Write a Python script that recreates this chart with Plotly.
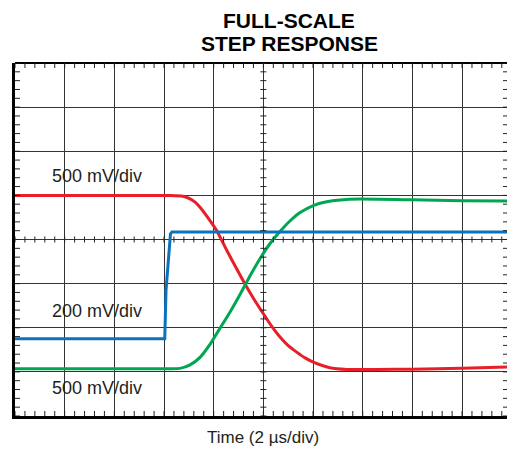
import plotly.graph_objects as go

# Time axis in microseconds (2 us/div), vertical in scope divisions
red_t = [0.0, 6.24, 6.76, 7.05, 7.25, 7.45, 7.85, 8.12, 8.52, 8.93, 9.26, 9.58, 10.0, 10.34, 10.67, 10.99,
         11.34, 11.68, 12.01, 12.68, 13.36, 14.6, 16.0, 18.0, 19.82]
red_v = [1.0, 0.996, 0.98, 0.922, 0.845, 0.731, 0.43, 0.204, -0.238, -0.668, -1.008, -1.313, -1.683, -1.97,
         -2.212, -2.40, -2.552, -2.683, -2.779, -2.905, -2.944, -2.945, -2.94, -2.92, -2.89]

green_t = [0.0, 6.24, 6.64, 7.05, 7.45, 7.85, 8.25, 8.66, 9.06, 9.46, 9.87, 10.27, 10.67, 11.07, 11.48,
           12.01, 12.55, 13.09, 13.89, 16.0, 18.0, 19.82]
green_v = [-2.93, -2.928, -2.921, -2.842, -2.672, -2.378, -2.015, -1.642, -1.245, -0.827, -0.43, -0.091,
           0.181, 0.419, 0.611, 0.77, 0.854, 0.894, 0.917, 0.90, 0.88, 0.87]

blue_t = [0.0, 6.03, 6.08, 6.18, 6.26, 6.32, 19.82]
blue_v = [-2.25, -2.25, -1.16, -0.40, 0.13, 0.17, 0.17]

labels = ["500 mV/div", "200 mV/div", "500 mV/div"]
label_v = [1.43, -1.63, -3.37]
title_lines = ["FULL-SCALE", "STEP RESPONSE"]
x_title = "Time (2 µs/div)"

X_MAX = 19.81
FONT = "Liberation Sans, Arial, Helvetica, sans-serif"

fig = go.Figure()
fig.add_trace(go.Scatter(x=red_t, y=red_v, mode="lines",
                         line=dict(color="#e81f29", width=3, shape="spline", smoothing=0.5)))
fig.add_trace(go.Scatter(x=green_t, y=green_v, mode="lines",
                         line=dict(color="#00a651", width=3, shape="spline", smoothing=0.5)))
fig.add_trace(go.Scatter(x=blue_t, y=blue_v, mode="lines",
                         line=dict(color="#0a73bd", width=3)))

shapes = []
tick_col = "#222"
# top border line
shapes.append(dict(type="line", xref="paper", yref="paper", x0=0, x1=1, y0=1, y1=1,
                   line=dict(color="black", width=2)))
dy = 1 / 44.16  # one pixel in y divisions
dx = 2 / 49.67  # one pixel in x (us)
# horizontal ticks along top/bottom borders and center line
for i in range(0, 50):
    x = i * 0.4
    if x > X_MAX:
        break
    shapes.append(dict(type="line", x0=x, x1=x, y0=4, y1=4 - 5 * dy, line=dict(color=tick_col, width=1)))
    shapes.append(dict(type="line", x0=x, x1=x, y0=-4, y1=-4 + 5 * dy, line=dict(color=tick_col, width=1)))
    shapes.append(dict(type="line", x0=x, x1=x, y0=-3 * dy, y1=3 * dy, line=dict(color=tick_col, width=1)))
# vertical ticks along left border, right edge, and center vertical line
for j in range(0, 41):
    y = -4 + j * 0.2
    shapes.append(dict(type="line", x0=0, x1=5 * dx, y0=y, y1=y, line=dict(color=tick_col, width=1)))
    shapes.append(dict(type="line", x0=X_MAX - 4 * dx, x1=X_MAX, y0=y, y1=y, line=dict(color=tick_col, width=1)))
    shapes.append(dict(type="line", x0=10 - 3 * dx, x1=10 + 3 * dx, y0=y, y1=y, line=dict(color=tick_col, width=1)))

annotations = []
for txt, v in zip(labels, label_v):
    annotations.append(dict(x=1.41, y=v, xref="x", yref="y", text=txt, showarrow=False,
                            xanchor="left", yanchor="middle",
                            font=dict(family=FONT, size=18, color="#231f20")))
annotations.append(dict(x=0.557, y=1.12, xref="paper", yref="paper", text=title_lines[0],
                        showarrow=False, xanchor="center", yanchor="middle",
                        font=dict(family=FONT, size=21, color="black", weight="bold")))
annotations.append(dict(x=0.557, y=1.055, xref="paper", yref="paper", text=title_lines[1],
                        showarrow=False, xanchor="center", yanchor="middle",
                        font=dict(family=FONT, size=21, color="black", weight="bold")))
annotations.append(dict(x=0.504, y=-0.06, xref="paper", yref="paper", text=x_title,
                        showarrow=False, xanchor="center", yanchor="middle",
                        font=dict(family=FONT, size=17, color="#231f20")))

fig.update_layout(
    width=507, height=449,
    margin=dict(l=15, r=0, t=63, b=33),
    paper_bgcolor="white", plot_bgcolor="white",
    showlegend=False,
    shapes=shapes,
    annotations=annotations,
    xaxis=dict(range=[0, X_MAX], dtick=2, tick0=0, showgrid=True, gridcolor="#333333", gridwidth=1,
               showticklabels=False, ticks="", zeroline=False,
               showline=True, linecolor="black", linewidth=3, fixedrange=True),
    yaxis=dict(range=[-4, 4], dtick=1, tick0=0, showgrid=True, gridcolor="#333333", gridwidth=1,
               showticklabels=False, ticks="", zeroline=False,
               showline=True, linecolor="black", linewidth=3, fixedrange=True),
)

fig.write_html("out.html", config={"displayModeBar": False},
               post_script="document.body.style.margin='0';document.body.style.overflow='hidden';")
